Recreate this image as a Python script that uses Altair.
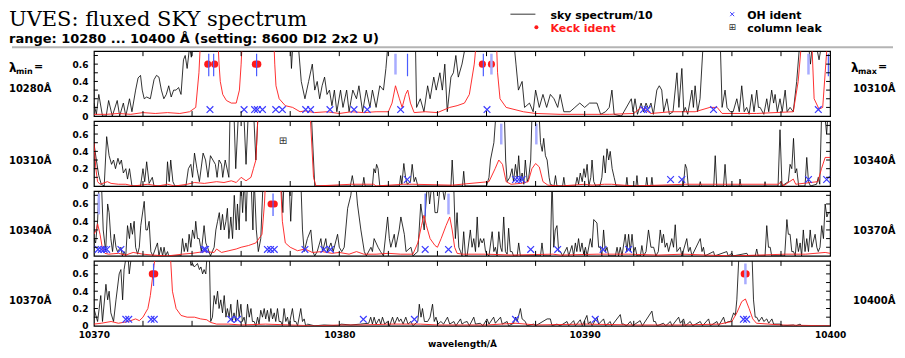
import altair as alt
import pandas as pd

# ---------------------------------------------------------------- data
PANEL_RANGES = [(10280, 10310), (10310, 10340), (10340, 10370), (10370, 10400)]
LEFT_LABELS = ["10280Å", "10310Å", "10340Å", "10370Å"]
RIGHT_LABELS = ["10310Å", "10340Å", "10370Å", "10400Å"]
Y_LABELS = [0, 0.2, 0.4, 0.6]
X_LABELS = [10370, 10380, 10390, 10400]
KECK_Y = 0.6
OH_Y = 0.075

SKY_1 = [(10280.0,0.15),(10280.1,0.02),(10280.2,0.25),(10280.35,0.0),(10280.5,0.0),(10280.6,0.18),(10280.75,0.0),(10280.95,0.18),(10281.05,0.0),(10281.2,0.15),(10281.3,0.0),(10281.45,0.2),(10281.55,0.05),(10281.7,0.3),(10281.8,0.44),(10281.9,0.47),(10281.97,0.3),(10282.05,0.2),(10282.15,0.22),(10282.3,0.2),(10282.45,0.42),(10282.55,0.47),(10282.65,0.45),(10282.75,0.3),(10282.85,0.2),(10282.95,0.25),(10283.05,0.35),(10283.15,0.22),(10283.25,0.3),(10283.35,0.3),(10283.45,0.33),(10283.55,0.25),(10283.65,0.65),(10283.72,0.7),(10283.8,0.55),(10283.9,0.8),(10283.97,0.68),(10284.05,0.9),(10288.0,0.9),(10288.05,0.55),(10288.12,0.9),(10288.35,0.75),
         (10288.45,0.4),(10288.6,0.2),(10288.75,0.4),(10288.9,0.6),(10289.0,0.3),(10289.1,0.4),(10289.2,0.2),(10289.3,0.35),(10289.4,0.45),(10289.5,0.25),(10289.6,0.3),(10289.7,0.12),(10289.8,0.3),(10289.9,0.05),(10290.05,0.3),(10290.15,0.1),(10290.3,0.3),(10290.4,0.05),(10290.55,0.3),(10290.7,0.2),(10290.8,0.35),(10290.95,0.05),(10291.1,0.3),(10291.25,0.1),(10291.35,0.3),(10291.5,0.1),(10291.65,0.35),(10291.8,0.3),(10291.9,0.55),(10292.0,0.9),(10293.1,0.9),(10293.15,0.1),(10293.3,0.2),(10293.45,0.05),(10293.6,0.35),(10293.7,0.2),(10293.85,0.45),(10293.95,0.3),(10294.1,0.5),(10294.2,0.3),(10294.3,0.6),(10294.4,0.05),(10294.55,0.45),(10294.65,0.5),(10294.75,0.7),(10294.85,0.45),(10295.0,0.6),(10295.2,0.9),(10297.1,0.9),(10297.2,0.6),(10297.3,0.3),(10297.45,0.4),(10297.55,0.1),(10297.75,0.15),(10297.9,0.05),(10298.0,0.3),(10298.15,0.1),(10298.3,0.25),(10298.45,0.1),(10298.6,0.25),(10298.75,0.2),(10298.9,0.1),(10299.0,0.25),(10299.15,0.05),(10299.4,0.05),(10299.6,0.1),(10299.8,0.15),(10300.0,0.1),(10300.2,0.15),(10300.5,0.15),
         (10300.65,0.02),(10300.85,0.05),(10301.0,0.1),(10301.11,0.3),(10301.2,0.02),(10301.5,0.0),(10301.6,0.05),(10301.9,0.2),(10301.97,0.05),(10302.05,0.2),(10302.15,0.02),(10302.3,0.15),(10302.4,0.05),(10302.5,0.15),(10302.6,0.08),(10302.7,0.15),(10302.8,0.02),(10302.94,0.3),(10303.04,0.35),(10303.14,0.3),(10303.22,0.05),(10303.35,0.2),(10303.45,0.02),(10303.6,0.05),(10303.76,0.5),(10303.84,0.1),(10303.96,0.55),(10304.04,0.05),(10304.1,0.1),(10304.2,0.02),(10304.37,0.3),(10304.43,0.1),(10304.5,0.35),(10304.6,0.05),(10304.7,0.2),(10304.84,0.9),(10305.52,0.9),(10305.6,0.1),(10305.72,0.3),(10305.8,0.1),(10305.93,0.05),(10306.05,0.05),(10306.2,0.2),(10306.3,0.05),(10306.4,0.35),(10306.5,0.05),(10306.6,0.1),(10306.7,0.02),(10306.81,0.25),(10306.9,0.05),(10307.01,0.3),(10307.08,0.1),(10307.15,0.1),(10307.3,0.02),(10307.42,0.2),(10307.5,0.05),(10307.62,0.3),(10307.7,0.15),(10307.76,0.25),(10307.85,0.05),(10307.96,0.2),(10308.05,0.05),(10308.17,0.3),(10308.25,0.05),(10308.37,0.1),(10308.5,0.05),(10308.64,0.4),(10308.78,0.9),(10309.1,0.9),(10309.2,0.6),(10309.3,0.9),(10309.45,0.8),(10309.55,0.65),(10309.7,0.9),(10310.0,0.9)]
RED_1 = [(10280.0,0.02),(10280.5,0.02),(10281.0,0.03),(10281.5,0.02),(10282.0,0.04),(10282.5,0.03),(10283.0,0.04),(10283.5,0.03),(10283.9,0.05),(10284.15,0.1),(10284.28,0.5),(10284.35,0.9),(10285.05,0.9),(10285.1,0.6),(10285.15,0.4),(10285.25,0.25),(10285.4,0.18),(10285.6,0.15),(10285.8,0.15),(10285.93,0.3),(10286.0,0.6),(10286.05,0.9),(10287.33,0.9),(10287.37,0.6),(10287.42,0.35),(10287.55,0.2),(10287.8,0.12),(10288.1,0.1),(10288.4,0.05),(10288.6,0.06),(10289.0,0.04),(10289.5,0.05),(10290.0,0.03),(10290.5,0.05),(10291.0,0.04),(10291.5,0.05),(10292.0,0.05),(10292.15,0.15),(10292.29,0.35),(10292.45,0.2),(10292.56,0.1),(10292.7,0.25),(10292.79,0.3),(10292.9,0.15),(10293.05,0.04),(10293.5,0.05),(10294.0,0.04),(10294.5,0.1),(10294.8,0.12),(10295.1,0.15),(10295.3,0.25),(10295.5,0.6),(10295.6,0.9),(10296.4,0.9),(10296.45,0.5),(10296.55,0.2),(10296.8,0.1),(10297.5,0.05),(10298.0,0.03),(10299.0,0.02),(10300.0,0.02),(10301.0,0.02),(10302.0,0.03),(10302.3,0.1),(10302.7,0.03),(10303.5,0.05),(10304.5,0.05),(10305.1,0.1),(10305.4,0.1),(10305.6,0.03),(10307.0,0.03),(10308.5,0.05),(10308.7,0.4),(10308.85,0.9),(10309.25,0.9),(10309.35,0.2),(10309.55,0.08),(10309.7,0.1),(10309.8,0.5),(10309.9,0.9),(10310.0,0.9)]
OH_1 = [10284.73, 10286.12, 10286.55, 10286.66, 10286.87, 10287.41, 10287.68, 10288.63, 10288.83, 10289.62, 10290.6, 10291.14, 10292.5, 10296.02, 10302.4, 10302.55, 10305.25, 10309.52]
KECK_1 = [10284.64, 10284.92, 10286.58, 10286.68, 10295.83, 10296.2]
DARK_1 = [10284.68, 10284.88, 10286.63, 10292.78, 10295.87, 10309.93]
LIGHT_1 = [10292.29, 10296.2, 10309.12]

SKY_2 = [(10310.0,0.5),(10310.1,0.3),(10310.2,0.12),(10310.3,0.02),(10310.42,0.0),(10310.52,0.57),(10310.62,0.35),(10310.72,0.25),(10310.8,0.3),(10310.88,0.2),(10310.98,0.32),(10311.05,0.25),(10311.12,0.3),(10311.2,0.15),(10311.3,0.2),(10311.37,0.08),(10311.45,0.2),(10311.55,0.0),(10311.9,0.0),(10312.0,0.2),(10312.07,0.05),(10312.15,0.28),(10312.25,0.03),(10312.38,0.1),(10312.45,0.0),(10312.95,0.0),(10313.0,0.28),(10313.07,0.05),(10313.13,0.3),(10313.22,0.05),(10313.3,0.0),(10313.75,0.0),(10313.85,0.2),(10313.95,0.25),(10314.02,0.1),(10314.1,0.38),(10314.2,0.2),(10314.3,0.05),(10314.45,0.38),(10314.55,0.3),(10314.65,0.1),(10314.75,0.35),(10314.85,0.3),(10314.95,0.25),(10315.02,0.1),(10315.1,0.3),(10315.2,0.25),(10315.25,0.1),(10315.35,0.3),(10315.5,0.1),(10315.55,0.9),(10315.7,0.9),(10315.78,0.2),(10315.9,0.9),(10316.1,0.9),(10316.2,0.25),(10316.3,0.9),(10316.5,0.9),(10316.6,0.3),(10316.7,0.9),(10318.85,0.9),(10318.95,0.3),(10319.0,0.0),
         (10320.45,0.0),(10320.53,0.12),(10320.6,0.0),(10320.95,0.0),(10321.0,0.1),(10321.05,0.0),(10321.35,0.0),(10321.41,0.2),(10321.47,0.15),(10321.52,0.25),(10321.58,0.2),(10321.65,0.0),(10322.45,0.0),(10322.5,0.12),(10322.55,0.02),(10322.63,0.26),(10322.7,0.1),(10322.77,0.02),(10322.9,0.05),(10322.97,0.25),(10323.05,0.05),(10323.11,0.1),(10323.2,0.0),(10324.55,0.0),(10324.6,0.3),(10324.66,0.0),(10325.02,0.0),(10325.07,0.17),(10325.12,0.0),(10326.0,0.0),(10326.1,0.1),(10326.16,0.3),(10326.3,0.5),(10326.4,0.9),(10326.72,0.9),(10326.78,0.3),(10326.84,0.05),(10326.95,0.1),(10327.04,0.2),(10327.1,0.05),(10327.18,0.25),(10327.25,0.1),(10327.31,0.35),(10327.38,0.05),(10327.45,0.15),(10327.52,0.02),(10327.58,0.3),(10327.66,0.05),(10327.72,0.1),(10327.8,0.3),(10327.86,0.9),(10328.13,0.9),(10328.2,0.5),(10328.27,0.4),(10328.33,0.55),(10328.4,0.35),(10328.47,0.3),(10328.55,0.1),(10328.6,0.02),(10328.75,0.0),(10328.81,0.12),(10328.87,0.0),(10329.1,0.0),(10329.15,0.1),(10329.2,0.0),(10329.62,0.0),(10329.69,0.1),(10329.75,0.02),(10329.82,0.15),(10329.9,0.05),(10329.97,0.2),(10330.03,0.1),(10330.1,0.25),(10330.17,0.0),(10330.25,0.1),(10330.3,0.3),(10330.37,0.05),(10330.45,0.0),
         (10330.62,0.0),(10330.7,0.1),(10330.77,0.35),(10330.84,0.15),(10330.91,0.43),(10330.98,0.3),(10331.04,0.4),(10331.12,0.2),(10331.2,0.1),(10331.28,0.0),(10331.68,0.0),(10331.72,0.1),(10331.76,0.0),(10332.09,0.0),(10332.13,0.12),(10332.17,0.0),(10332.49,0.0),(10332.53,0.1),(10332.57,0.0),(10332.7,0.0),(10332.74,0.1),(10332.78,0.0),(10334.02,0.0),(10334.1,0.25),(10334.16,0.2),(10334.22,0.0),(10334.67,0.0),(10334.71,0.05),(10334.75,0.0),(10335.26,0.0),(10335.32,0.35),(10335.38,0.0),(10335.66,0.0),(10335.72,0.25),(10335.78,0.0),(10336.3,0.0),(10336.33,0.08),(10336.37,0.0),(10337.32,0.0),(10337.35,0.05),(10337.38,0.0),(10337.88,0.0),(10337.96,0.65),(10338.04,0.0),(10338.3,0.05),(10338.37,0.25),(10338.44,0.2),(10338.51,0.55),(10338.58,0.15),(10338.64,0.2),(10338.72,0.0),(10338.98,0.0),(10339.05,0.33),(10339.12,0.05),(10339.2,0.0),(10339.45,0.02),(10339.52,0.1),(10339.58,0.02),(10339.66,0.9),(10339.76,0.9),(10339.86,0.6),(10339.93,0.9),(10340.0,0.9)]
RED_2 = [(10310.0,0.5),(10310.08,0.2),(10310.15,0.05),(10310.25,0.02),(10310.55,0.05),(10310.7,0.03),(10311.0,0.02),(10311.3,0.02),(10311.6,0.0),(10312.2,0.02),(10312.6,0.0),(10313.0,0.02),(10313.3,0.0),(10313.8,0.02),(10314.1,0.04),(10314.5,0.03),(10315.0,0.05),(10315.3,0.04),(10315.6,0.06),(10315.8,0.04),(10316.0,0.1),(10316.2,0.06),(10316.4,0.1),(10316.5,0.2),(10316.6,0.3),(10316.7,0.9),(10318.8,0.9),(10318.95,0.1),(10319.05,0.0),(10320.5,0.02),(10321.4,0.02),(10321.5,0.0),(10322.6,0.02),(10323.0,0.02),(10324.6,0.01),(10326.1,0.05),(10326.35,0.2),(10326.5,0.3),(10326.65,0.25),(10326.8,0.05),(10327.0,0.02),(10327.4,0.03),(10327.7,0.05),(10327.85,0.2),(10328.0,0.26),(10328.15,0.22),(10328.3,0.05),(10328.5,0.01),(10329.0,0.0),(10330.0,0.02),(10330.3,0.01),(10330.8,0.02),(10331.1,0.02),(10332.0,0.0),(10334.1,0.02),(10335.3,0.02),(10337.9,0.02),(10338.0,0.05),(10338.1,0.0),(10338.5,0.08),(10338.6,0.02),(10339.5,0.05),(10339.65,0.2),(10339.8,0.33),(10340.0,0.33)]
OH_2 = [10322.77, 10327.18, 10327.31, 10327.45, 10333.5, 10333.96, 10339.12, 10339.86]
KECK_2 = []
DARK_2 = []
LIGHT_2 = [10326.6, 10328.03]
LEAK_2 = [(10317.7, 0.52)]

SKY_3 = [(10340.0,0.2),(10340.07,0.15),(10340.15,0.4),(10340.22,0.9),(10340.3,0.9),(10340.38,0.3),(10340.48,0.05),(10340.56,0.6),(10340.62,0.5),(10340.69,0.2),(10340.76,0.05),(10340.83,0.25),(10340.9,0.1),(10340.96,0.05),(10341.1,0.1),(10341.16,0.0),(10341.23,0.05),(10341.3,0.0),(10341.37,0.35),(10341.45,0.2),(10341.5,0.38),(10341.57,0.25),(10341.64,0.4),(10341.7,0.1),(10341.78,0.02),(10341.85,0.1),(10341.91,0.35),(10342.05,0.63),(10342.12,0.3),(10342.18,0.3),(10342.25,0.4),(10342.32,0.05),(10342.4,0.0),(10342.59,0.15),(10342.65,0.0),(10342.73,0.1),(10342.8,0.0),(10342.86,0.1),(10342.92,0.0),(10343.0,0.05),(10343.05,0.0),(10343.55,0.0),(10343.61,0.2),(10343.68,0.05),(10343.75,0.15),(10343.82,0.05),(10343.88,0.25),(10343.95,0.1),(10344.02,0.3),(10344.1,0.2),(10344.15,0.4),(10344.22,0.2),(10344.29,0.2),(10344.38,0.05),(10344.49,0.35),(10344.56,0.15),(10344.63,0.1),(10344.75,0.0),(10344.9,0.1),(10344.97,0.3),(10345.04,0.4),(10345.11,0.5),(10345.17,0.3),(10345.24,0.48),(10345.31,0.3),(10345.38,0.4),(10345.44,0.55),(10345.5,0.2),(10345.58,0.45),(10345.65,0.2),(10345.72,0.7),(10345.8,0.3),(10345.85,0.6),(10345.92,0.3),(10345.99,0.9),(10346.06,0.5),(10346.13,0.9),(10346.2,0.4),(10346.26,0.9),(10346.4,0.9),(10346.48,0.3),(10346.53,0.9),(10346.62,0.3),(10346.7,0.05),(10346.8,0.2),(10346.9,0.9),(10347.62,0.9),(10347.7,0.5),(10347.75,0.9),(10347.95,0.9),(10348.02,0.4),(10348.1,0.9),(10348.43,0.9),(10348.5,0.3),(10348.57,0.05),(10348.7,0.2),(10348.84,0.3),(10348.92,0.05),(10349.0,0.0),(10349.1,0.05),(10349.25,0.2),(10349.32,0.05),(10349.45,0.2),(10349.52,0.05),(10349.66,0.15),(10349.75,0.05),(10349.93,0.25),(10350.0,0.1),(10350.1,0.05),(10350.2,0.1),(10350.34,0.55),(10350.47,0.7),(10350.55,0.9),(10350.65,0.9),(10350.74,0.6),(10350.88,0.3),(10351.02,0.05),(10351.1,0.0),(10351.29,0.1),(10351.35,0.05),(10351.42,0.2),(10351.5,0.15),(10351.58,0.1),(10351.68,0.05),(10351.8,0.0),(10351.97,0.45),(10352.04,0.2),(10352.1,0.1),(10352.24,0.25),(10352.3,0.1),(10352.44,0.3),(10352.51,0.45),(10352.65,0.25),(10352.72,0.05),(10352.92,0.1),(10353.0,0.0),(10353.2,0.05),(10353.32,0.6),(10353.46,0.3),(10353.6,0.9),(10353.68,0.6),(10353.8,0.9),(10353.9,0.5),(10354.0,0.5),(10354.14,0.9),(10354.28,0.65),(10354.41,0.9),(10354.6,0.9),
         (10354.67,0.75),(10354.73,0.2),(10354.8,0.5),(10354.87,0.1),(10354.94,0.05),(10355.0,0.0),(10355.07,0.28),(10355.14,0.0),(10355.21,0.0),(10355.34,0.3),(10355.41,0.1),(10355.48,0.2),(10355.55,0.05),(10355.62,0.45),(10355.68,0.1),(10355.75,0.2),(10355.82,0.15),(10355.89,0.2),(10355.96,0.05),(10356.02,0.02),(10356.1,0.0),(10356.23,0.28),(10356.3,0.05),(10356.36,0.1),(10356.43,0.0),(10356.5,0.28),(10356.57,0.1),(10356.63,0.05),(10356.7,0.45),(10356.77,0.05),(10356.84,0.02),(10356.9,0.32),(10356.97,0.05),(10357.04,0.05),(10357.1,0.0),(10357.25,0.0),(10357.31,0.15),(10357.38,0.0),(10358.2,0.0),(10358.26,0.15),(10358.32,0.0),(10358.6,0.0),(10358.67,0.9),(10358.74,0.1),(10358.8,0.3),(10358.87,0.35),(10358.94,0.05),(10359.01,0.05),(10359.1,0.0),(10359.28,0.1),(10359.35,0.0),(10359.48,0.12),(10359.55,0.0),(10359.62,0.15),(10359.68,0.05),(10359.75,0.2),(10359.82,0.05),(10359.89,0.15),(10359.96,0.02),(10360.03,0.1),(10360.1,0.0),(10360.23,0.2),(10360.3,0.1),(10360.37,0.42),(10360.5,0.38),(10360.57,0.1),(10360.64,0.1),(10360.7,0.0),(10360.77,0.3),(10360.84,0.05),(10360.91,0.1),(10360.98,0.0),(10361.25,0.0),(10361.32,0.1),(10361.38,0.0),(10361.45,0.1),(10361.52,0.0),(10361.65,0.25),(10361.72,0.05),(10361.79,0.25),(10361.86,0.05),(10361.93,0.25),(10362.0,0.05),(10362.06,0.1),(10362.13,0.0),(10362.27,0.0),(10362.33,0.12),(10362.4,0.0),(10362.5,0.05),(10362.6,0.3),(10362.7,0.1),(10362.81,0.1),(10362.9,0.0),(10363.0,0.05),(10363.08,0.3),(10363.15,0.15),(10363.21,0.25),(10363.28,0.1),(10363.35,0.15),(10363.42,0.05),(10363.55,0.2),(10363.62,0.1),(10363.69,0.36),(10363.76,0.05),(10363.89,0.1),(10363.96,0.0),(10364.16,0.2),(10364.23,0.05),(10364.3,0.1),(10364.37,0.0),(10364.71,0.2),(10364.78,0.05),(10364.84,0.1),(10364.9,0.0),(10365.25,0.05),(10365.3,0.0),(10365.79,0.05),(10365.85,0.0),(10366.0,0.03),(10366.05,0.0),(10366.61,0.03),(10366.66,0.0),(10366.95,0.0),(10367.01,0.08),(10367.07,0.0),(10367.35,0.0),(10367.42,0.35),(10367.49,0.1),(10367.56,0.1),(10367.62,0.0),(10368.15,0.0),(10368.24,0.42),(10368.3,0.25),(10368.37,0.25),(10368.44,0.05),(10368.51,0.05),(10368.58,0.0),(10368.64,0.2),(10368.71,0.05),(10368.78,0.15),(10368.84,0.0),(10368.91,0.3),(10368.98,0.05),(10369.05,0.2),(10369.12,0.05),(10369.19,0.3),(10369.26,0.1),(10369.39,0.25),(10369.46,0.1),(10369.52,0.05),(10369.59,0.1),(10369.66,0.35),(10369.73,0.2),(10369.8,0.6),(10369.87,0.45),(10369.93,0.5),(10370.0,0.5)]
RED_3 = [(10340.0,0.25),(10340.1,0.3),(10340.15,0.37),(10340.25,0.25),(10340.35,0.08),(10340.45,0.03),(10340.6,0.02),(10341.0,0.03),(10341.3,0.01),(10341.6,0.04),(10342.0,0.02),(10342.4,0.01),(10343.0,0.0),(10343.6,0.02),(10344.0,0.03),(10344.5,0.05),(10344.9,0.04),(10345.0,0.08),(10345.2,0.04),(10345.5,0.06),(10345.8,0.08),(10346.0,0.1),(10346.3,0.12),(10346.6,0.15),(10346.85,0.25),(10346.95,0.6),(10347.0,0.9),(10347.6,0.9),(10347.68,0.4),(10347.8,0.15),(10348.0,0.1),(10348.3,0.06),(10348.6,0.08),(10348.9,0.04),(10349.3,0.05),(10349.7,0.03),(10350.0,0.04),(10350.4,0.02),(10350.7,0.05),(10351.0,0.02),(10351.5,0.02),(10352.0,0.03),(10352.5,0.02),(10353.0,0.02),(10353.2,0.15),(10353.35,0.35),(10353.45,0.47),(10353.55,0.35),(10353.7,0.2),(10353.9,0.12),(10354.0,0.1),(10354.15,0.2),(10354.35,0.35),(10354.5,0.45),(10354.6,0.3),(10354.7,0.1),(10354.8,0.03),(10355.0,0.02),(10356.0,0.02),(10357.0,0.01),(10358.7,0.02),(10359.0,0.01),(10360.5,0.02),(10361.8,0.02),(10363.0,0.01),(10364.0,0.02),(10366.0,0.0),(10368.2,0.02),(10369.0,0.02),(10369.8,0.04),(10370.0,0.03)]
OH_3 = [10340.17, 10340.3, 10340.42, 10340.52, 10341.1, 10344.48, 10344.55, 10347.07, 10347.2, 10347.35, 10348.6, 10349.37, 10349.64, 10353.5, 10354.45, 10357.8, 10358.9, 10360.75, 10361.79]
KECK_3 = [10347.22, 10347.35]
DARK_3 = [10347.3, 10353.5]
LIGHT_3 = [10340.2, 10354.45]

SKY_4 = [(10370.0,0.2),(10370.15,0.05),(10370.28,0.35),(10370.35,0.05),(10370.49,0.48),(10370.56,0.3),(10370.62,0.4),(10370.69,0.15),(10370.8,0.05),(10370.9,0.3),(10371.03,0.6),(10371.1,0.65),(10371.17,0.3),(10371.23,0.65),(10371.37,0.9),(10371.44,0.6),(10371.57,0.9),(10373.88,0.9),(10373.95,0.7),(10374.02,0.72),(10374.09,0.68),(10374.16,0.7),(10374.22,0.72),(10374.3,0.65),(10374.36,0.68),(10374.43,0.6),(10374.49,0.65),(10374.56,0.6),(10374.63,0.9),(10374.7,0.9),(10374.76,0.05),(10374.83,0.1),(10374.9,0.35),(10374.97,0.25),(10375.04,0.4),(10375.1,0.2),(10375.17,0.3),(10375.24,0.15),(10375.31,0.35),(10375.38,0.1),(10375.44,0.2),(10375.51,0.1),(10375.58,0.25),(10375.64,0.05),(10375.71,0.15),(10375.78,0.05),(10375.85,0.3),(10375.92,0.1),(10375.99,0.25),(10376.05,0.05),(10376.12,0.1),(10376.19,0.0),(10376.26,0.25),(10376.33,0.1),(10376.4,0.2),(10376.46,0.05),(10376.53,0.05),(10376.6,0.0),(10376.67,0.1),(10376.73,0.02),(10376.8,0.18),(10376.87,0.1),(10376.94,0.2),(10377.0,0.08),(10377.07,0.18),(10377.14,0.05),(10377.21,0.2),(10377.28,0.08),(10377.35,0.15),(10377.41,0.05),(10377.48,0.2),(10377.55,0.05),(10377.62,0.05),(10377.68,0.0),(10377.75,0.2),(10377.82,0.05),(10377.89,0.1),(10377.95,0.0),(10378.09,0.2),(10378.16,0.05),(10378.23,0.05),(10378.3,0.0),(10378.43,0.2),(10378.5,0.05),(10378.57,0.08),(10378.63,0.0),(10378.7,0.02),(10379.0,0.0),(10379.38,0.01),(10380.0,0.0),(10380.06,0.02),(10380.47,0.01),(10380.87,0.02),(10381.2,0.03),(10381.28,0.1),(10381.35,0.02),(10381.42,0.1),(10381.5,0.02),(10381.62,0.08),(10381.69,0.02),(10381.76,0.1),(10381.85,0.02),(10381.96,0.05),(10382.05,0.0),(10382.17,0.1),(10382.25,0.02),(10382.37,0.1),(10382.44,0.05),(10382.51,0.08),(10382.6,0.02),(10382.71,0.1),(10382.8,0.02),(10382.92,0.05),(10383.0,0.0),(10383.2,0.05),(10383.26,0.25),(10383.33,0.1),(10383.39,0.2),(10383.47,0.05),(10383.6,0.05),(10383.7,0.1),(10383.8,0.25),(10383.87,0.05),(10383.94,0.1),(10384.02,0.02),(10384.14,0.05),(10384.25,0.02),(10384.41,0.1),(10384.5,0.02),
         (10384.67,0.05),(10384.75,0.0),(10384.94,0.08),(10385.0,0.02),(10385.1,0.04),(10385.21,0.05),(10385.3,0.0),(10385.48,0.1),(10385.55,0.02),(10385.75,0.03),(10385.85,0.0),(10386.02,0.08),(10386.1,0.02),(10386.29,0.1),(10386.36,0.03),(10386.57,0.1),(10386.64,0.02),(10386.84,0.05),(10386.9,0.0),(10387.1,0.03),(10387.18,0.1),(10387.25,0.05),(10387.38,0.2),(10387.45,0.08),(10387.58,0.05),(10387.65,0.0),(10387.92,0.02),(10388.0,0.0),(10388.47,0.08),(10388.6,0.08),(10388.67,0.0),(10388.87,0.02),(10389.0,0.0),(10389.28,0.05),(10389.35,0.0),(10389.55,0.06),(10389.62,0.0),(10389.82,0.07),(10389.9,0.0),(10390.09,0.12),(10390.15,0.02),(10390.23,0.05),(10390.3,0.0),(10390.5,0.1),(10390.57,0.02),(10390.77,0.08),(10390.85,0.0),(10391.04,0.05),(10391.1,0.0),(10391.45,0.13),(10391.52,0.02),(10391.59,0.02),(10391.7,0.0),(10391.86,0.05),(10391.95,0.0),(10392.26,0.06),(10392.35,0.0),(10392.74,0.17),(10392.81,0.05),(10392.88,0.05),(10392.95,0.0),(10393.21,0.03),(10393.3,0.0),(10393.49,0.05),(10393.56,0.0),(10393.83,0.1),(10393.9,0.03),(10394.03,0.08),(10394.1,0.0),(10394.3,0.05),(10394.4,0.0),(10394.71,0.05),(10394.8,0.0),(10395.05,0.08),(10395.12,0.0),(10395.39,0.05),(10395.46,0.0),(10395.66,0.1),(10395.73,0.03),(10395.86,0.05),(10395.95,0.05),(10396.07,0.15),(10396.14,0.12),(10396.2,0.3),(10396.3,0.9),(10396.81,0.9),(10396.88,0.3),(10396.95,0.1),(10397.01,0.1),(10397.1,0.05),(10397.22,0.1),(10397.3,0.05),(10397.42,0.08),(10397.5,0.03),(10397.63,0.08),(10397.7,0.02),(10397.96,0.02),(10398.1,0.0),(10398.51,0.01),(10398.6,0.0),(10398.78,0.02),(10398.85,0.0),(10400.0,0.0)]
RED_4 = [(10370.0,0.02),(10370.3,0.03),(10370.7,0.05),(10371.0,0.03),(10371.4,0.05),(10371.7,0.08),(10371.85,0.06),(10372.0,0.1),(10372.2,0.2),(10372.3,0.35),(10372.45,0.7),(10372.55,0.9),(10373.1,0.9),(10373.2,0.4),(10373.35,0.2),(10373.55,0.12),(10373.8,0.1),(10374.1,0.1),(10374.35,0.08),(10374.6,0.07),(10374.75,0.04),(10375.0,0.02),(10375.5,0.02),(10376.0,0.01),(10377.0,0.02),(10378.0,0.01),(10379.0,0.0),(10380.0,0.01),(10381.0,0.01),(10382.0,0.02),(10383.3,0.02),(10384.0,0.01),(10386.0,0.01),(10387.2,0.03),(10388.0,0.01),(10390.0,0.02),(10392.0,0.01),(10394.0,0.01),(10395.5,0.02),(10396.0,0.05),(10396.2,0.15),(10396.4,0.28),(10396.55,0.31),(10396.7,0.2),(10396.85,0.08),(10397.0,0.03),(10397.5,0.02),(10398.0,0.01),(10400.0,0.0)]
OH_4 = [10371.3, 10371.42, 10372.33, 10372.46, 10375.58, 10375.85, 10380.98, 10383.06, 10387.18, 10390.43, 10396.47, 10396.6]
KECK_4 = [10372.38, 10372.48, 10396.5, 10396.58]
DARK_4 = [10372.43]
LIGHT_4 = [10396.55]

SKY = [SKY_1, SKY_2, SKY_3, SKY_4]
REDS = [RED_1, RED_2, RED_3, RED_4]
OHS = [OH_1, OH_2, OH_3, OH_4]
KECKS = [KECK_1, KECK_2, KECK_3, KECK_4]
DARKS = [DARK_1, DARK_2, DARK_3, DARK_4]
LIGHTS = [LIGHT_1, LIGHT_2, LIGHT_3, LIGHT_4]
LEAKS = [[], LEAK_2, [], []]

# ---------------------------------------------------------------- style
W, H = 737, 65
YMAX = 0.75
FONT = "DejaVu Sans"
RED = "#ff1a1a"
BLUE = "#3a3aff"
DARKBLUE = "#4a5cff"
LAV = "#a8acff"
XSHAPE = "M-1,-1L1,1M-1,1L1,-1"
TOP = 50      # page y of the first panel's top edge
LEFTP = 93    # page x of the panels' left edge


def rx(px):   # page x -> panel-relative x
    return px - LEFTP


def ry(py):   # page y -> first-panel-relative y
    return py - TOP


def txt(s, x, y, size=10, color="black", font=FONT, weight="bold",
        baseline="middle", align="left"):
    return alt.Chart(pd.DataFrame({"t": [s]})).mark_text(
        font=font, fontSize=size, fontWeight=weight, color=color,
        baseline=baseline, align=align
    ).encode(x=alt.value(x), y=alt.value(y), text="t:N")


def make_panel(i):
    lo, hi = PANEL_RANGES[i]
    xs = alt.Scale(domain=[lo, hi], nice=False, zero=False)
    ys = alt.Scale(domain=[0, YMAX], nice=False, zero=False)
    if i == 3:
        xax = alt.Axis(values=X_LABELS, format="d", ticks=False, domain=False,
                       grid=False, labelFont=FONT, labelFontWeight="bold",
                       labelFontSize=9, labelColor="black", labelPadding=5,
                       labelFlush=False, title="wavelength/Å", titleFont=FONT,
                       titleFontWeight="bold", titleFontSize=9,
                       titleColor="black", titlePadding=0)
    else:
        xax = None
    yax = alt.Axis(values=Y_LABELS, format=".1~f", ticks=False, domain=False,
                   grid=False, labelFont=FONT, labelFontWeight="bold",
                   labelFontSize=9, labelColor="black", labelPadding=6,
                   title=None)
    X = alt.X("w:Q", scale=xs, axis=xax)
    Y = alt.Y("v:Q", scale=ys, axis=yax)

    layers = []
    layers.append(alt.Chart(pd.DataFrame(SKY[i], columns=["w", "v"]))
                  .mark_line(clip=True, color="black", strokeWidth=0.8)
                  .encode(x=X, y=Y))
    layers.append(alt.Chart(pd.DataFrame(REDS[i], columns=["w", "v"]))
                  .mark_line(clip=True, color=RED, strokeWidth=0.9)
                  .encode(x=X, y=Y))
    if OHS[i]:
        layers.append(alt.Chart(pd.DataFrame({"w": OHS[i], "v": OH_Y}))
                      .mark_point(shape=XSHAPE, size=45, filled=False,
                                  color=BLUE, strokeWidth=1.2, opacity=1)
                      .encode(x=X, y=Y))
    if KECKS[i]:
        layers.append(alt.Chart(pd.DataFrame({"w": KECKS[i], "v": KECK_Y}))
                      .mark_circle(size=50, color=RED, opacity=1)
                      .encode(x=X, y=Y))
    if LIGHTS[i]:
        layers.append(alt.Chart(pd.DataFrame({"w": LIGHTS[i], "v": 0.48, "v2": 0.72}))
                      .mark_rule(color=LAV, strokeWidth=2.5)
                      .encode(x=X, y=Y, y2="v2:Q"))
    if DARKS[i]:
        layers.append(alt.Chart(pd.DataFrame({"w": DARKS[i], "v": 0.46, "v2": 0.72}))
                      .mark_rule(color=DARKBLUE, strokeWidth=1.2)
                      .encode(x=X, y=Y, y2="v2:Q"))
    if LEAKS[i]:
        layers.append(alt.Chart(pd.DataFrame(LEAKS[i], columns=["w", "v"]))
                      .mark_text(text="⊞", font=FONT, fontSize=10, color="#333333")
                      .encode(x=X, y=Y))

    # inward ticks
    xt = pd.DataFrame({"w": list(range(lo + 2, hi, 2))})
    yt = pd.DataFrame({"v": [0.1, 0.2, 0.3, 0.4, 0.5, 0.6, 0.7]})
    layers.append(alt.Chart(xt).mark_rule(color="black", strokeWidth=1)
                  .encode(x=X, y=alt.value(0), y2=alt.value(5)))
    layers.append(alt.Chart(xt).mark_rule(color="black", strokeWidth=1)
                  .encode(x=X, y=alt.value(H - 5), y2=alt.value(H)))
    layers.append(alt.Chart(yt).mark_rule(color="black", strokeWidth=1)
                  .encode(y=Y, x=alt.value(0), x2=alt.value(4)))
    layers.append(alt.Chart(yt).mark_rule(color="black", strokeWidth=1)
                  .encode(y=Y, x=alt.value(W - 4), x2=alt.value(W)))

    # side labels
    if i == 0:
        layers += [txt("λ", rx(8), 17, size=12), txt("min", rx(15), 21, size=8),
                   txt("=", rx(33), 16, size=11), txt(LEFT_LABELS[0], rx(8), 38),
                   txt("λ", rx(851), 17, size=12), txt("max", rx(858), 21, size=8),
                   txt("=", rx(878), 16, size=11), txt(RIGHT_LABELS[0], rx(853), 38)]
    else:
        layers += [txt(LEFT_LABELS[i], rx(8), 40), txt(RIGHT_LABELS[i], rx(853), 40)]

    if i == 0:
        # anchor of the top-left corner of the whole picture (page 8, 8)
        layers.append(alt.Chart(pd.DataFrame({"a": [0]}))
                      .mark_rule(opacity=0, strokeWidth=0)
                      .encode(x=alt.value(rx(8)), x2=alt.value(rx(8)),
                              y=alt.value(ry(8)), y2=alt.value(ry(8))))
        layers.append(txt("UVES: fluxed SKY spectrum", rx(8), ry(8), size=21,
                          font="DejaVu Serif", weight="normal", baseline="top"))
        layers.append(txt("range: 10280 ... 10400 Å (setting: 8600 DI2 2x2 U)",
                          rx(8), ry(32), size=13, baseline="top"))
        layers.append(alt.Chart(pd.DataFrame({"a": [0]}))
                      .mark_rule(color="#b4b4b4", strokeWidth=2)
                      .encode(x=alt.value(rx(11)), x2=alt.value(rx(893)),
                              y=alt.value(ry(46))))
        # legend
        layers.append(alt.Chart(pd.DataFrame({"a": [0]}))
                      .mark_rule(color="black", strokeWidth=0.8)
                      .encode(x=alt.value(rx(510)), x2=alt.value(rx(535)),
                              y=alt.value(ry(13))))
        layers.append(txt("sky spectrum/10", rx(550), ry(9), size=11, baseline="top"))
        layers.append(alt.Chart(pd.DataFrame({"a": [0]}))
                      .mark_circle(size=16, color=RED, opacity=1)
                      .encode(x=alt.value(rx(536)), y=alt.value(ry(26))))
        layers.append(txt("Keck ident", rx(550), ry(22), size=11, color=RED, baseline="top"))
        layers.append(alt.Chart(pd.DataFrame({"a": [0]}))
                      .mark_point(shape=XSHAPE, size=16, filled=False,
                                  color=BLUE, strokeWidth=1, opacity=1)
                      .encode(x=alt.value(rx(732)), y=alt.value(ry(13))))
        layers.append(txt("OH ident", rx(747), ry(9), size=11, baseline="top"))
        layers.append(txt("⊞", rx(732), ry(26), size=9, weight="normal",
                          color="#333333", align="center"))
        layers.append(txt("column leak", rx(747), ry(22), size=11, baseline="top"))

    return alt.layer(*layers).properties(width=W, height=H)


panels = [make_panel(i) for i in range(4)]

chart = (
    alt.vconcat(*panels, spacing=5, bounds="flush")
    .resolve_scale(x="independent", y="independent")
    .configure_view(stroke="black", strokeWidth=1.2)
    .properties(padding=0, background="white")
)

chart.save("out.html", embed_options={"renderer": "svg", "actions": False})
